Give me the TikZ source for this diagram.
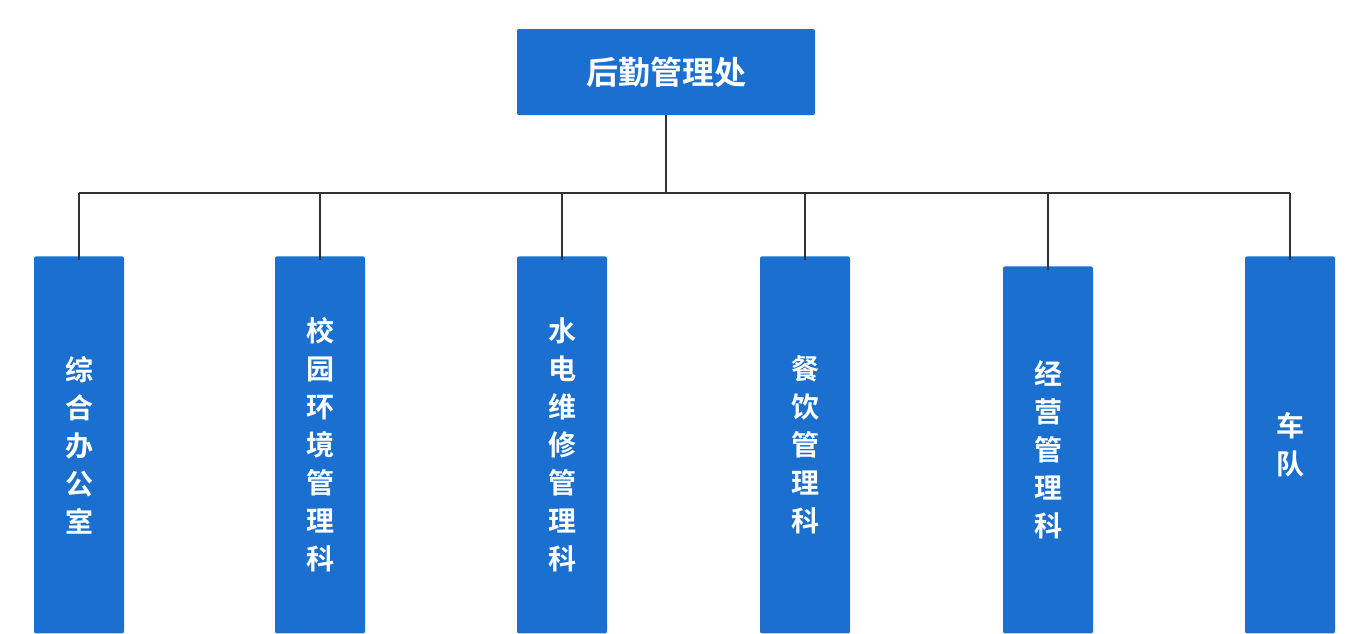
\documentclass[tikz,border=0pt]{standalone}
\usepackage{fontspec}
\newfontfamily\cjk{Noto Sans CJK SC Bold}
\definecolor{boxblue}{HTML}{1A6FCF}
\begin{document}
\begin{tikzpicture}[x=0.5pt,y=-0.5pt,
  box/.style={fill=boxblue,rounded corners=1pt,inner sep=0pt,text=white,font=\cjk\fontsize{14}{19}\selectfont,align=center},
  conn/.style={draw=black!80,line width=1pt}]
\useasboundingbox[fill=white] (0,0) rectangle (1367,633);
\node[box,minimum width=149pt,minimum height=43pt,font=\cjk\fontsize{16}{19}\selectfont] (top) at (666,72) {后勤管理处};
\def\mk#1#2#3#4{\node[box,minimum width=45pt,minimum height={(633-#2)/2*1pt},anchor=north] (#1) at (#3,#2) {#4};}
\mk{b1}{256}{79}{综\\合\\办\\公\\室}
\mk{b2}{256}{320}{校\\园\\环\\境\\管\\理\\科}
\mk{b3}{256}{562}{水\\电\\维\\修\\管\\理\\科}
\mk{b4}{256}{805}{餐\\饮\\管\\理\\科}
\mk{b5}{266}{1048}{经\\营\\管\\理\\科}
\mk{b6}{256}{1290}{车\\队}
\coordinate (hub) at (666,193);
\draw[conn] (top.south) -- (hub);
\draw[conn] (b1.north |- hub) -- (b6.north |- hub);
\foreach \b in {b1,b2,b3,b4,b5,b6}{
  \draw[conn] (\b.north |- hub) -- ([yshift=-2pt]\b.north);
}
\end{tikzpicture}
\end{document}
